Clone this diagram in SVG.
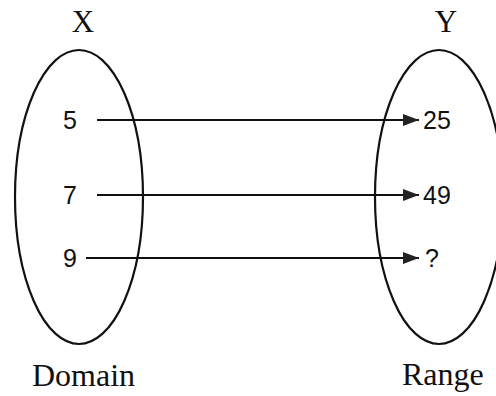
<svg xmlns="http://www.w3.org/2000/svg" width="496" height="396" viewBox="0 0 496 396">
<style>
.ell{fill:none;stroke:#111;stroke-width:2.2}
.con{stroke:#111;stroke-width:2.2;fill:none}
.serif{font-family:"Liberation Serif","Times New Roman",serif;fill:#111}
.num{font-family:"Liberation Sans",Arial,sans-serif;font-size:25px;fill:#111}
</style>
<defs>
<marker id="ah" viewBox="0 0 10 10" refX="10" refY="5" markerWidth="16" markerHeight="12" markerUnits="userSpaceOnUse" orient="auto" preserveAspectRatio="none">
<path d="M0,0 L10,5 L0,10 z" fill="#222"/>
</marker>
</defs>
<rect width="496" height="396" fill="#fff"/>
<g id="domain">
<ellipse class="ell" cx="79" cy="197" rx="64" ry="147"/>
<text class="serif" x="83" y="32" font-size="31" text-anchor="middle">X</text>
<text class="serif" x="32" y="386" font-size="32">Domain</text>
<text class="num" x="63" y="129">5</text>
<text class="num" x="63" y="204">7</text>
<text class="num" x="63" y="267">9</text>
</g>
<g id="range">
<ellipse class="ell" cx="439" cy="197" rx="64" ry="147"/>
<text class="serif" x="446" y="32" font-size="31" text-anchor="middle">Y</text>
<text class="serif" x="402" y="385" font-size="32">Range</text>
<text class="num" x="423" y="129">25</text>
<text class="num" x="423" y="204">49</text>
<text class="num" x="425" y="267">?</text>
</g>
<g id="connectors">
<line class="con" x1="97" y1="120" x2="419" y2="120" marker-end="url(#ah)"/>
<line class="con" x1="97" y1="195" x2="419" y2="195" marker-end="url(#ah)"/>
<line class="con" x1="86" y1="258" x2="419" y2="258" marker-end="url(#ah)"/>
</g>
</svg>
